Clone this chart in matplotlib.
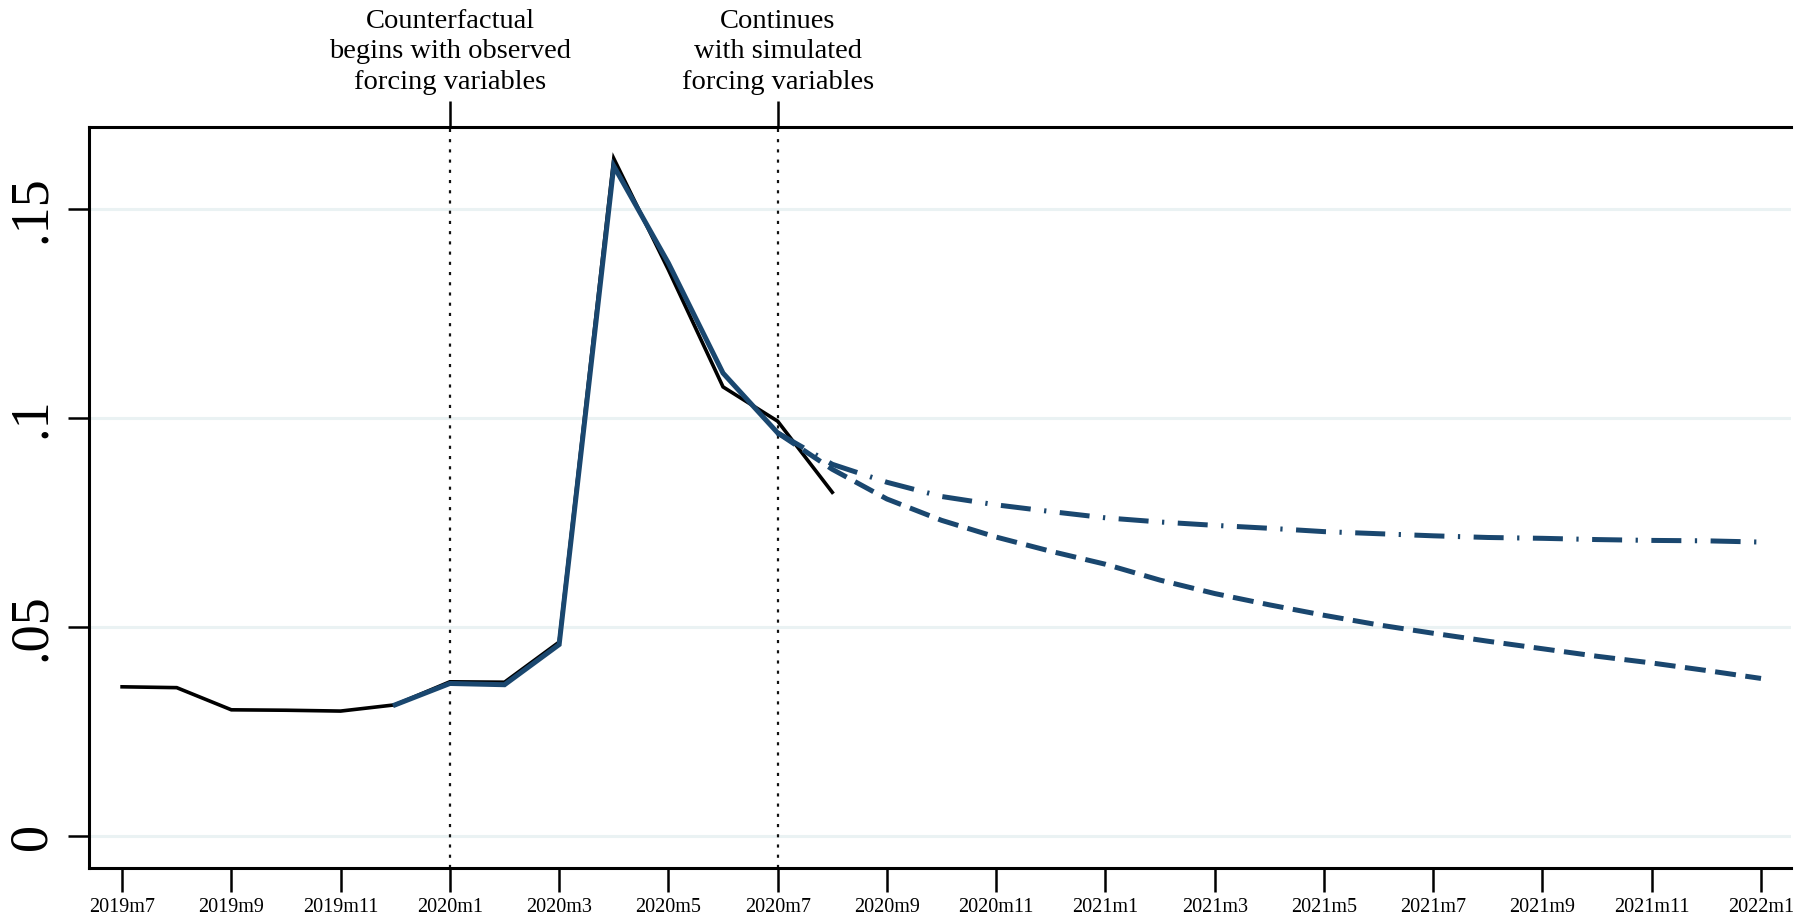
import matplotlib
matplotlib.use("Agg")
import matplotlib.pyplot as plt
import numpy as np

plt.rcParams['font.family'] = ['Liberation Serif', 'DejaVu Serif']

# monthly x positions, 2019m7 .. 2022m1
month_pos = np.arange(31)
tick_pos = month_pos[::2]
tick_labels = ["2019m7", "2019m9", "2019m11", "2020m1", "2020m3", "2020m5",
               "2020m7", "2020m9", "2020m11", "2021m1", "2021m3", "2021m5",
               "2021m7", "2021m9", "2021m11", "2022m1"]

# observed series, 2019m7 .. 2020m8
observed = [0.0357, 0.0355, 0.0302, 0.0301, 0.0299, 0.0314, 0.0369,
            0.0368, 0.0464, 0.1620, 0.1354, 0.1074, 0.0992, 0.0822]

# counterfactual with observed forcing variables, 2019m12 .. 2020m7
cf_observed = [0.0314, 0.0365, 0.0362, 0.0458, 0.1602, 0.1370, 0.1107, 0.0964]

# simulated continuation, 2020m7 .. 2022m1
cf_dashed = [0.0964, 0.0877, 0.0806, 0.0755, 0.0715, 0.0681, 0.0650, 0.0612,
             0.0580, 0.0553, 0.0528, 0.0505, 0.0485, 0.0466, 0.0448, 0.0430,
             0.0414, 0.0396, 0.0377]
cf_dashdot = [0.0964, 0.0889, 0.0846, 0.0812, 0.0792, 0.0776, 0.0761, 0.0751,
              0.0743, 0.0736, 0.0728, 0.0723, 0.0718, 0.0714, 0.0712, 0.0709,
              0.0707, 0.0706, 0.0703]

event_pos = [6, 12]
event_labels = ["Counterfactual\nbegins with observed\nforcing variables",
                "Continues\nwith simulated\nforcing variables"]

yticks = [0, 0.05, 0.1, 0.15]
ytick_labels = ["0", ".05", ".1", ".15"]

navy = "#1a476f"

fig = plt.figure(figsize=(17.97, 9.22), dpi=100)
ax = fig.add_axes([0.0497, 0.0591, 0.947, 0.803])

for y in yticks:
    ax.axhline(y, color="#eaf2f3", lw=2.2, zorder=0)

for x in event_pos:
    ax.axvline(x, color="#111111", lw=1.6, linestyle=(0, (1.4, 3.2)), zorder=1)

ax.plot(month_pos[:len(observed)], observed, color="black", lw=2.6,
        solid_joinstyle="miter", zorder=3)
ax.plot(month_pos[5:5 + len(cf_observed)], cf_observed, color=navy, lw=3.6,
        solid_joinstyle="miter", zorder=4)
ax.plot(month_pos[12:12 + len(cf_dashed)], cf_dashed, color=navy, lw=3.6,
        linestyle=(0, (4.2, 1.9)), zorder=4)
ax.plot(month_pos[12:12 + len(cf_dashdot)], cf_dashdot, color=navy, lw=3.6,
        linestyle=(0, (6.0, 2.7, 0.45, 2.7)), zorder=4)

ax.set_xlim(-0.6, 30.55)
ax.set_ylim(-0.0075, 0.1695)

ax.set_xticks(tick_pos)
ax.set_xticklabels(tick_labels, fontsize=14.5)
ax.set_yticks(yticks)
ax.set_yticklabels(ytick_labels, fontsize=39, rotation=90, va="center")
ax.tick_params(axis="x", length=17, width=1.8, pad=5)
ax.tick_params(axis="y", length=15, width=1.8, pad=8)

for side in ["left", "bottom", "top"]:
    ax.spines[side].set_linewidth(2.2)
ax.spines["right"].set_visible(False)

# markers and notes above the plot region
top = ax.secondary_xaxis("top")
top.set_xticks(event_pos)
top.set_xticklabels(event_labels, fontsize=20.5, linespacing=1.3)
top.tick_params(length=19, width=1.8, pad=4)
top.spines["top"].set_visible(False)

fig.savefig("out.png", dpi=100)
